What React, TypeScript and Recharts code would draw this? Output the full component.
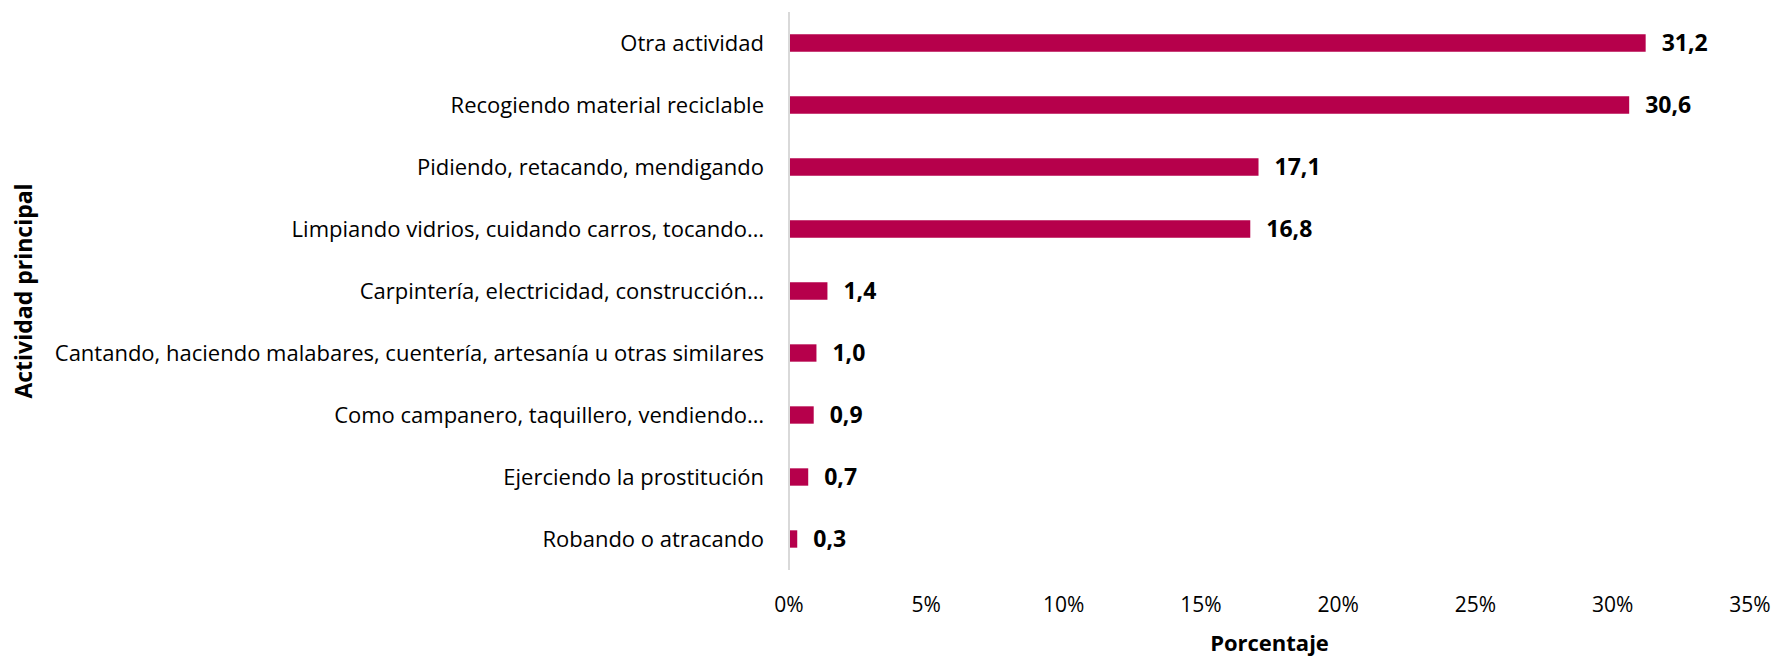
import { BarChart, Bar, XAxis, YAxis, LabelList } from "recharts"

const categories = [
  "Otra actividad",
  "Recogiendo material reciclable",
  "Pidiendo, retacando, mendigando",
  "Limpiando vidrios, cuidando carros, tocando…",
  "Carpintería, electricidad, construcción…",
  "Cantando, haciendo malabares, cuentería, artesanía u otras similares",
  "Como campanero, taquillero, vendiendo…",
  "Ejerciendo la prostitución",
  "Robando o atracando",
]

const values = [31.2, 30.6, 17.1, 16.8, 1.4, 1.0, 0.9, 0.7, 0.3]

const xTicks = [0, 5, 10, 15, 20, 25, 30, 35]

const FONT = "'Open Sans', 'Noto Sans', sans-serif"

export default function App() {
  const data = categories.map((name, i) => ({ name, value: values[i] }))

  return (
    <div style={{ position: "absolute", left: 0, top: 0, fontFamily: FONT }}>
      <BarChart
        width={1775}
        height={659}
        data={data}
        layout="vertical"
        margin={{ top: 12, right: 25, bottom: 0, left: 0 }}
        barCategoryGap="64%"
      >
        <XAxis
          type="number"
          domain={[0, 35]}
          ticks={xTicks}
          tickFormatter={(v: number) => `${v}%`}
          axisLine={false}
          tickLine={false}
          tickMargin={21}
          height={89}
          tick={{ fontSize: 21, fill: "#000", fontFamily: FONT }}
          label={{
            value: "Porcentaje",
            position: "insideBottom",
            offset: 8,
            fill: "#000",
            fontSize: 22,
            fontWeight: "bold",
            fontFamily: FONT,
          }}
        />
        <YAxis
          type="category"
          dataKey="name"
          width={789}
          axisLine={{ stroke: "#d9d9d9", strokeWidth: 2 }}
          tickLine={false}
          tickMargin={19}
          interval={0}
          tick={{ fontSize: 22, fill: "#000", fontFamily: FONT }}
          label={{
            value: "Actividad principal",
            angle: -90,
            position: "insideLeft",
            offset: 24,
            fill: "#000",
            fontSize: 23,
            fontWeight: "bold",
            fontFamily: FONT,
            style: { textAnchor: "middle" },
          }}
        />
        <Bar dataKey="value" fill="#B6004B" isAnimationActive={false}>
          <LabelList
            dataKey="value"
            position="right"
            offset={16}
            formatter={(v: number) => v.toFixed(1).replace(".", ",")}
            style={{ fontSize: 23, fontWeight: "bold", fill: "#000", fontFamily: FONT }}
          />
        </Bar>
      </BarChart>
    </div>
  )
}
